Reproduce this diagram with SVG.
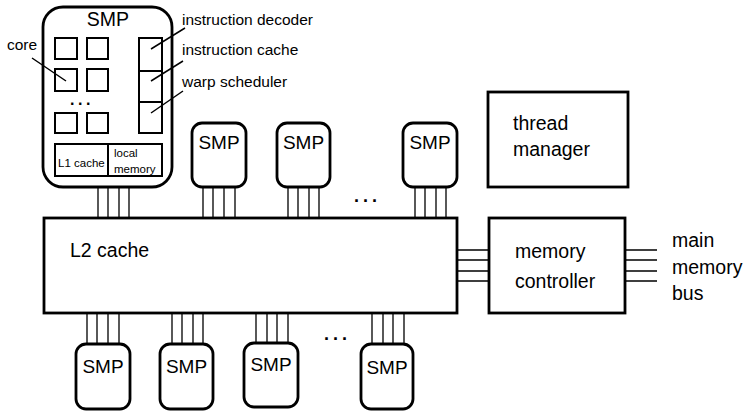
<svg xmlns="http://www.w3.org/2000/svg" width="748" height="411" viewBox="0 0 748 411">
<style>
text{font-family:"Liberation Sans",Arial,sans-serif;fill:#000}
.box{fill:#fff;stroke:#000;stroke-width:2.8}
.inner{fill:#fff;stroke:#000;stroke-width:2}
.bus{stroke:#000;stroke-width:1.3;fill:none}
.lead{stroke:#000;stroke-width:1.5;fill:none}
.smp{font-size:19px;text-anchor:middle}
.lbl{font-size:19.5px}
.sm{font-size:15.5px}
.dots{font-size:18px;font-weight:bold;letter-spacing:4px}
</style>
<rect width="748" height="411" fill="#fff"/>
<g id="connectors">
  <path class="bus" d="M98,187V218M108,187V218M119,187V218M129,187V218"/>
  <path class="bus" d="M203,187V218M213,187V218M224,187V218M235,187V218"/>
  <path class="bus" d="M288,187V218M298,187V218M309,187V218M319,187V218"/>
  <path class="bus" d="M415,187V218M425,187V218M436,187V218M446,187V218"/>
  <path class="bus" d="M87,313V344M97,313V344M108,313V344M119,313V344"/>
  <path class="bus" d="M172,313V344M182,313V344M193,313V344M203,313V344"/>
  <path class="bus" d="M256,313V343M267,313V343M277,313V343M288,313V343"/>
  <path class="bus" d="M372,313V344M383,313V344M393,313V344M404,313V344"/>
  <path class="bus" d="M457,250H489M457,260H489M457,271H489M457,281H489"/>
  <path class="bus" d="M625,250H657M625,260H657M625,271H657M625,281H657"/>
</g>
<g id="smp-main">
  <rect class="box" x="43" y="7" width="129" height="180" rx="20"/>
  <text class="smp" x="108" y="26" style="font-size:19.5px">SMP</text>
  <rect class="inner" x="55" y="38" width="22" height="21"/>
  <rect class="inner" x="87" y="38" width="21" height="21"/>
  <rect class="inner" x="55" y="69" width="22" height="22"/>
  <rect class="inner" x="87" y="69" width="21" height="22"/>
  <rect class="inner" x="55" y="113" width="22" height="20"/>
  <rect class="inner" x="87" y="113" width="21" height="20"/>
  <text class="dots" x="70" y="105" style="font-size:16px;letter-spacing:3.5px">...</text>
  <rect class="inner" x="139" y="38" width="23" height="33"/>
  <rect class="inner" x="139" y="71" width="23" height="31"/>
  <rect class="inner" x="139" y="102" width="23" height="31"/>
  <rect class="inner" x="55" y="144" width="53" height="32"/>
  <rect class="inner" x="108" y="144" width="54" height="32"/>
  <text x="58" y="167" style="font-size:11.5px">L1 cache</text>
  <text x="114" y="157" style="font-size:11.5px">local</text>
  <text x="114" y="173" style="font-size:11.5px">memory</text>
</g>
<g id="leaders">
  <path class="lead" d="M32,58L66,81M151,49L185,28M151,81L183,61M151,113L183,91"/>
</g>
<g id="labels">
  <text class="sm" x="7" y="50">core</text>
  <text class="sm" x="182" y="25">instruction decoder</text>
  <text class="sm" x="182" y="55">instruction cache</text>
  <text class="sm" x="182" y="87">warp scheduler</text>
</g>
<g id="smp-t1"><rect class="box" x="192" y="123" width="54" height="64" rx="10"/><text class="smp" x="219" y="149">SMP</text></g>
<g id="smp-t2"><rect class="box" x="277" y="123" width="53" height="64" rx="10"/><text class="smp" x="303.5" y="149">SMP</text></g>
<g id="smp-t3"><rect class="box" x="403" y="123" width="54" height="64" rx="10"/><text class="smp" x="430" y="149">SMP</text></g>
<text class="dots" x="354" y="202">...</text>
<g id="l2"><rect class="box" x="44" y="218" width="413" height="95"/><text class="lbl" x="70" y="257">L2 cache</text></g>
<g id="mc"><rect class="box" x="489" y="218" width="136" height="95"/><text class="lbl" x="515" y="258">memory</text><text class="lbl" x="515" y="288">controller</text></g>
<g id="tm"><rect class="box" x="488" y="92" width="140" height="95"/><text class="lbl" x="513" y="130">thread</text><text class="lbl" x="513" y="156">manager</text></g>
<g id="bus-label"><text class="lbl" x="672" y="247">main</text><text class="lbl" x="672" y="274">memory</text><text class="lbl" x="672" y="300">bus</text></g>
<g id="smp-b1"><rect class="box" x="76" y="344" width="54" height="65" rx="10"/><text class="smp" x="103" y="373">SMP</text></g>
<g id="smp-b2"><rect class="box" x="160" y="344" width="53" height="65" rx="10"/><text class="smp" x="186.5" y="373">SMP</text></g>
<g id="smp-b3"><rect class="box" x="244" y="343" width="54" height="64" rx="10"/><text class="smp" x="271" y="371">SMP</text></g>
<g id="smp-b4"><rect class="box" x="361" y="344" width="52" height="65" rx="10"/><text class="smp" x="387" y="374">SMP</text></g>
<text class="dots" x="324" y="340">...</text>
</svg>
